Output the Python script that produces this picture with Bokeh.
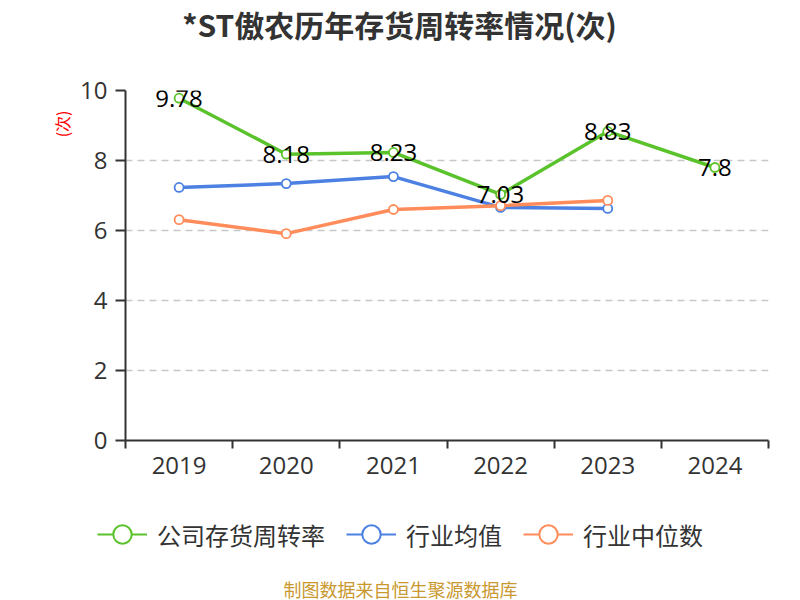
import math
from bokeh.plotting import figure
from bokeh.layouts import column
from bokeh.models import Range1d, FixedTicker, Legend, LegendItem, Title, Label
from bokeh.core.properties import value
from bokeh.embed import file_html
from bokeh.resources import INLINE

# ---- data ----
years = ["2019", "2020", "2021", "2022", "2023", "2024"]
company = [9.78, 8.18, 8.23, 7.03, 8.83, 7.8]
industry_avg = [7.23, 7.34, 7.54, 6.66, 6.63]
industry_median = [6.31, 5.91, 6.60, 6.71, 6.86]
y_ticks = [0, 2, 4, 6, 8, 10]
series_names = ["公司存货周转率", "行业均值", "行业中位数"]
title_text = "*ST傲农历年存货周转率情况(次)"
unit_text = "(次)"
source_text = "制图数据来自恒生聚源数据库"

GREEN = "#5AC22B"
BLUE = "#4C80E2"
ORANGE = "#FF8C5A"
DARK = "#333333"
CJK = "Noto Sans CJK SC"
LAT = "Open Sans"

xs = list(range(len(years)))


def blank(h):
    f = figure(width=800, height=h, output_backend="svg", toolbar_location=None,
               x_axis_type=None, y_axis_type=None,
               x_range=Range1d(0, 1), y_range=Range1d(0, 1), min_border=0)
    f.outline_line_color = None
    f.background_fill_color = "white"
    f.border_fill_color = "white"
    f.frame_align = False
    return f


# ---- title strip ----
ft = blank(60)
ft.add_layout(Label(x=399, y=59, x_units="screen", y_units="screen", text=title_text,
                    text_align="center", text_baseline="top", text_font=CJK,
                    text_font_size="30px", text_font_style="bold", text_color=DARK))

# ---- main chart ----
p = figure(width=800, height=430, output_backend="svg", toolbar_location=None,
           x_range=Range1d(-0.5, len(years) - 0.5), y_range=Range1d(0, 10),
           min_border_left=125, min_border_right=32, min_border_top=30,
           min_border_bottom=50)
p.frame_align = False
p.outline_line_color = None
p.background_fill_color = "white"
p.border_fill_color = "white"

p.xaxis.ticker = FixedTicker(ticks=xs, minor_ticks=[i - 0.5 for i in range(len(years) + 1)])
p.xaxis.major_label_overrides = {i: y for i, y in zip(xs, years)}
p.xaxis.major_tick_out = 0
p.xaxis.major_tick_in = 0
p.xaxis.minor_tick_out = 8
p.xaxis.minor_tick_in = 0
p.xaxis.minor_tick_line_color = DARK
p.xaxis.minor_tick_line_width = 2
p.xaxis.axis_line_color = DARK
p.xaxis.axis_line_width = 2
p.xaxis.major_label_text_font = LAT
p.xaxis.major_label_text_font_size = "24px"
p.xaxis.major_label_text_color = DARK
p.xaxis.major_label_standoff = 8

p.yaxis.ticker = FixedTicker(ticks=y_ticks)
p.yaxis.minor_tick_line_color = None
p.yaxis.major_tick_out = 10
p.yaxis.major_tick_in = 0
p.yaxis.major_tick_line_color = DARK
p.yaxis.major_tick_line_width = 2
p.yaxis.axis_line_color = DARK
p.yaxis.axis_line_width = 2
p.yaxis.major_label_text_font = LAT
p.yaxis.major_label_text_font_size = "24px"
p.yaxis.major_label_text_color = DARK
p.yaxis.major_label_standoff = 8

p.xgrid.visible = False
p.ygrid.grid_line_color = "#c8c8c8"
p.ygrid.grid_line_dash = "7 5"
p.ygrid.grid_line_width = 1.5

for vals, color in zip([company, industry_avg, industry_median], [GREEN, BLUE, ORANGE]):
    xv = xs[:len(vals)]
    p.line(xv, vals, line_color=color, line_width=3.5)
    p.scatter(xv, vals, marker="circle", size=9, fill_color="white",
              line_color=color, line_width=1.8)

p.text(x=xs, y=company, text=[str(v) for v in company], text_align="center",
       text_baseline="middle", text_font=value(LAT), text_font_size="24px",
       text_color="black")

p.add_layout(Title(text=unit_text, align="right", offset=20, standoff=8,
                   text_font=CJK, text_font_size="16px", text_font_style="normal",
                   text_color="red"), "left")

# ---- legend + footer strip ----
fb = blank(110)
nan = float("nan")
items = []
for name, color in zip(series_names, [GREEN, BLUE, ORANGE]):
    lr = fb.line([nan], [nan], line_color=color, line_width=2)
    sr = fb.scatter([nan], [nan], marker="circle", size=18, fill_color="white",
                    line_color=color, line_width=2)
    items.append(LegendItem(label=name, renderers=[lr, sr]))
legend = Legend(items=items, orientation="horizontal", location=(97, 43),
                glyph_width=50, glyph_height=46, label_standoff=10, spacing=21,
                padding=0, margin=0, border_line_color=None,
                background_fill_alpha=0, label_text_font=CJK,
                label_text_font_size="24px", label_text_color=DARK,
                label_text_baseline="middle")
fb.add_layout(legend, "center")
fb.add_layout(Label(x=400, y=12, x_units="screen", y_units="screen", text=source_text,
                    text_align="center", text_baseline="middle", text_font=CJK,
                    text_font_size="18px", text_color="#C9982F"))

layout = column(ft, p, fb, spacing=0)
open("out.html", "w").write(file_html(layout, INLINE))
